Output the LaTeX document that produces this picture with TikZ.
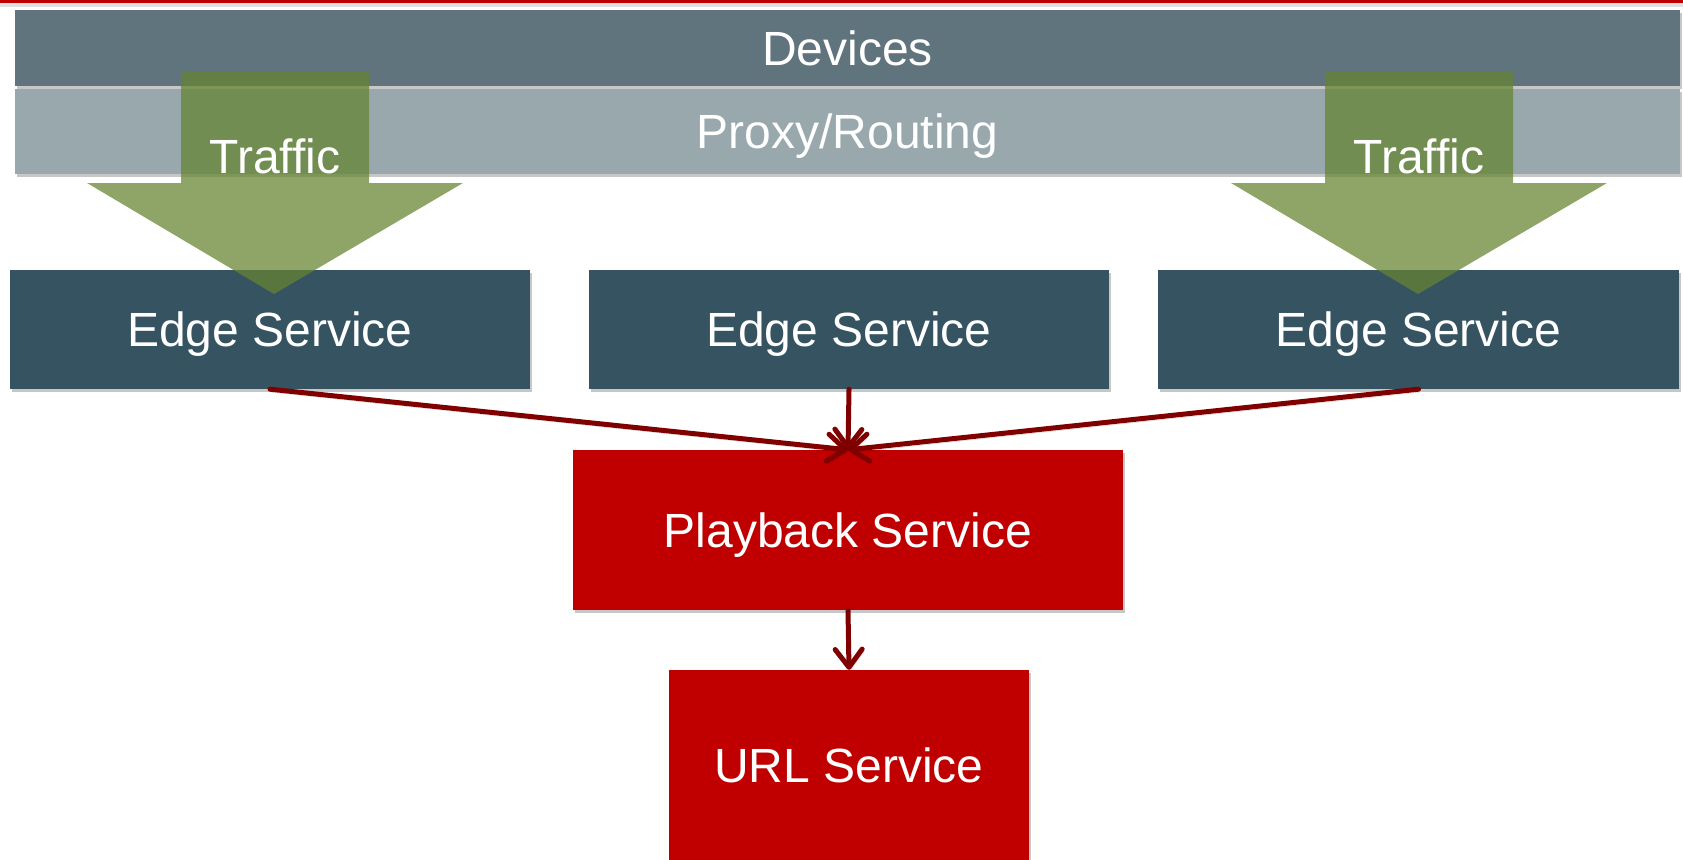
\documentclass[tikz,border=0pt]{standalone}
\usepackage{fontspec}
\setmainfont{Liberation Sans}
\usetikzlibrary{arrows.meta,shadows}
\definecolor{devgray}{RGB}{96,116,126}
\definecolor{proxygray}{RGB}{152,168,172}
\definecolor{edgeblue}{RGB}{54,83,97}
\definecolor{svcred}{RGB}{192,0,0}
\definecolor{trafficgreen}{RGB}{101,132,48}
\definecolor{linkred}{RGB}{128,0,0}
\begin{document}
\begin{tikzpicture}[x=1pt,y=-1pt,
  lbl/.style={text=white,font=\fontsize{48pt}{57pt}\selectfont,
    text height=34.5pt,text depth=0pt,inner sep=0pt},
  band/.style={lbl,rectangle,minimum width=1665pt},
  boxshadow/.style={drop shadow={shadow xshift=2pt,shadow yshift=-3pt,
    opacity=0.22,fill=black}},
  svc/.style={lbl,rectangle,boxshadow},
  edgebox/.style={svc,fill=edgeblue,minimum width=520pt,minimum height=119pt},
  redbox/.style={svc,fill=svcred},
  traffic/.style={fill=trafficgreen,fill opacity=0.73},
  link/.style={draw=linkred,line width=5pt,line cap=round,
    -{Straight Barb[length=18pt,width=27pt,round]},
    preaction={draw=black,draw opacity=0.18,
      transform canvas={shift={(1.5pt,-3pt)}}}}
]
\useasboundingbox (0,0) rectangle (1683,859);

% red rule along the top edge
\fill[black,opacity=0.12] (0,3) rectangle (1683,7);
\fill[svcred] (0,0) rectangle (1683,3);

% layers
\node[band,boxshadow,fill=devgray,minimum height=76pt] (devices) at (847.5,48) {Devices};
\node[band,boxshadow,fill=proxygray,minimum height=85pt] (proxy) at (847.5,131.5) {Proxy/Routing};

% edge tier
\node[edgebox] (e1) at (270,329.5) {Edge Service};
\node[edgebox] (e2) at (849,329.5) {Edge Service};
\node[edgebox,minimum width=521pt] (e3) at (1418.5,329.5) {Edge Service};

% traffic arrows
\fill[traffic] (181,71) -- (369,71) -- (369,183) -- (463,183) -- (274,294)
  -- (87,183) -- (181,183) -- cycle;
\fill[traffic] (1325,71) -- (1513,71) -- (1513,183) -- (1607,183) -- (1418,294)
  -- (1231,183) -- (1325,183) -- cycle;
\node[lbl] (t1) at (275,156) {Traffic};
\node[lbl] (t2) at (1419,156) {Traffic};

% backend services
\node[redbox,minimum width=550pt,minimum height=160pt] (pb) at (848,530) {Playback Service};
\node[redbox,minimum width=360pt,minimum height=190pt] (url) at (849,765) {URL Service};

% calls
\draw[link] (e1.south) -- (pb.north);
\draw[link] (e3.south) -- (pb.north);
\draw[link] (e2.south) -- (pb.north);
\draw[link] (pb.south) -- (url.north);
\end{tikzpicture}
\end{document}
